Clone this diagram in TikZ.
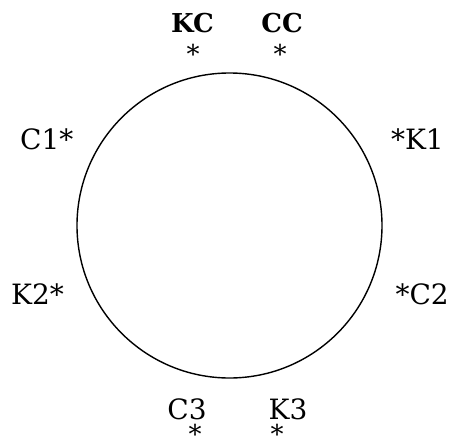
\documentclass[tikz,border=0pt]{standalone}
\usepackage{fontspec}
\setmainfont{DejaVu Serif}
\begin{document}
\begin{tikzpicture}[x=1pt,y=-1pt,
  lbl/.style={inner sep=0pt,font=\fontsize{28}{28}\selectfont},
  blbl/.style={inner sep=0pt,font=\fontsize{26}{26}\selectfont\bfseries},
  star/.style={inner sep=0pt,anchor=base,font=\fontsize{26}{26}\selectfont}]
\useasboundingbox (0,0) rectangle (451,445);
\node[draw,circle,line width=1.4pt,minimum size=305pt,inner sep=0pt] (ring) at (229.5,225.5) {};
\node[blbl,anchor=base] (kc) at (192.5,32) {KC};
\node[star] (kcs) at (193,63) {*};
\node[blbl,anchor=base] (cc) at (282,32) {CC};
\node[star] (ccs) at (280,63) {*};
\node[lbl,anchor=base west] (c1) at (20,149) {C1*};
\node[lbl,anchor=base west] (k2) at (11,304) {K2*};
\node[lbl,anchor=base east] (k1) at (444,149) {*K1};
\node[lbl,anchor=base east] (c2) at (449,304) {*C2};
\node[lbl,anchor=base] (c3) at (187,419) {C3};
\node[star] (c3s) at (195,443) {*};
\node[lbl,anchor=base] (k3) at (288,419) {K3};
\node[star] (k3s) at (277,443) {*};
\end{tikzpicture}
\end{document}
